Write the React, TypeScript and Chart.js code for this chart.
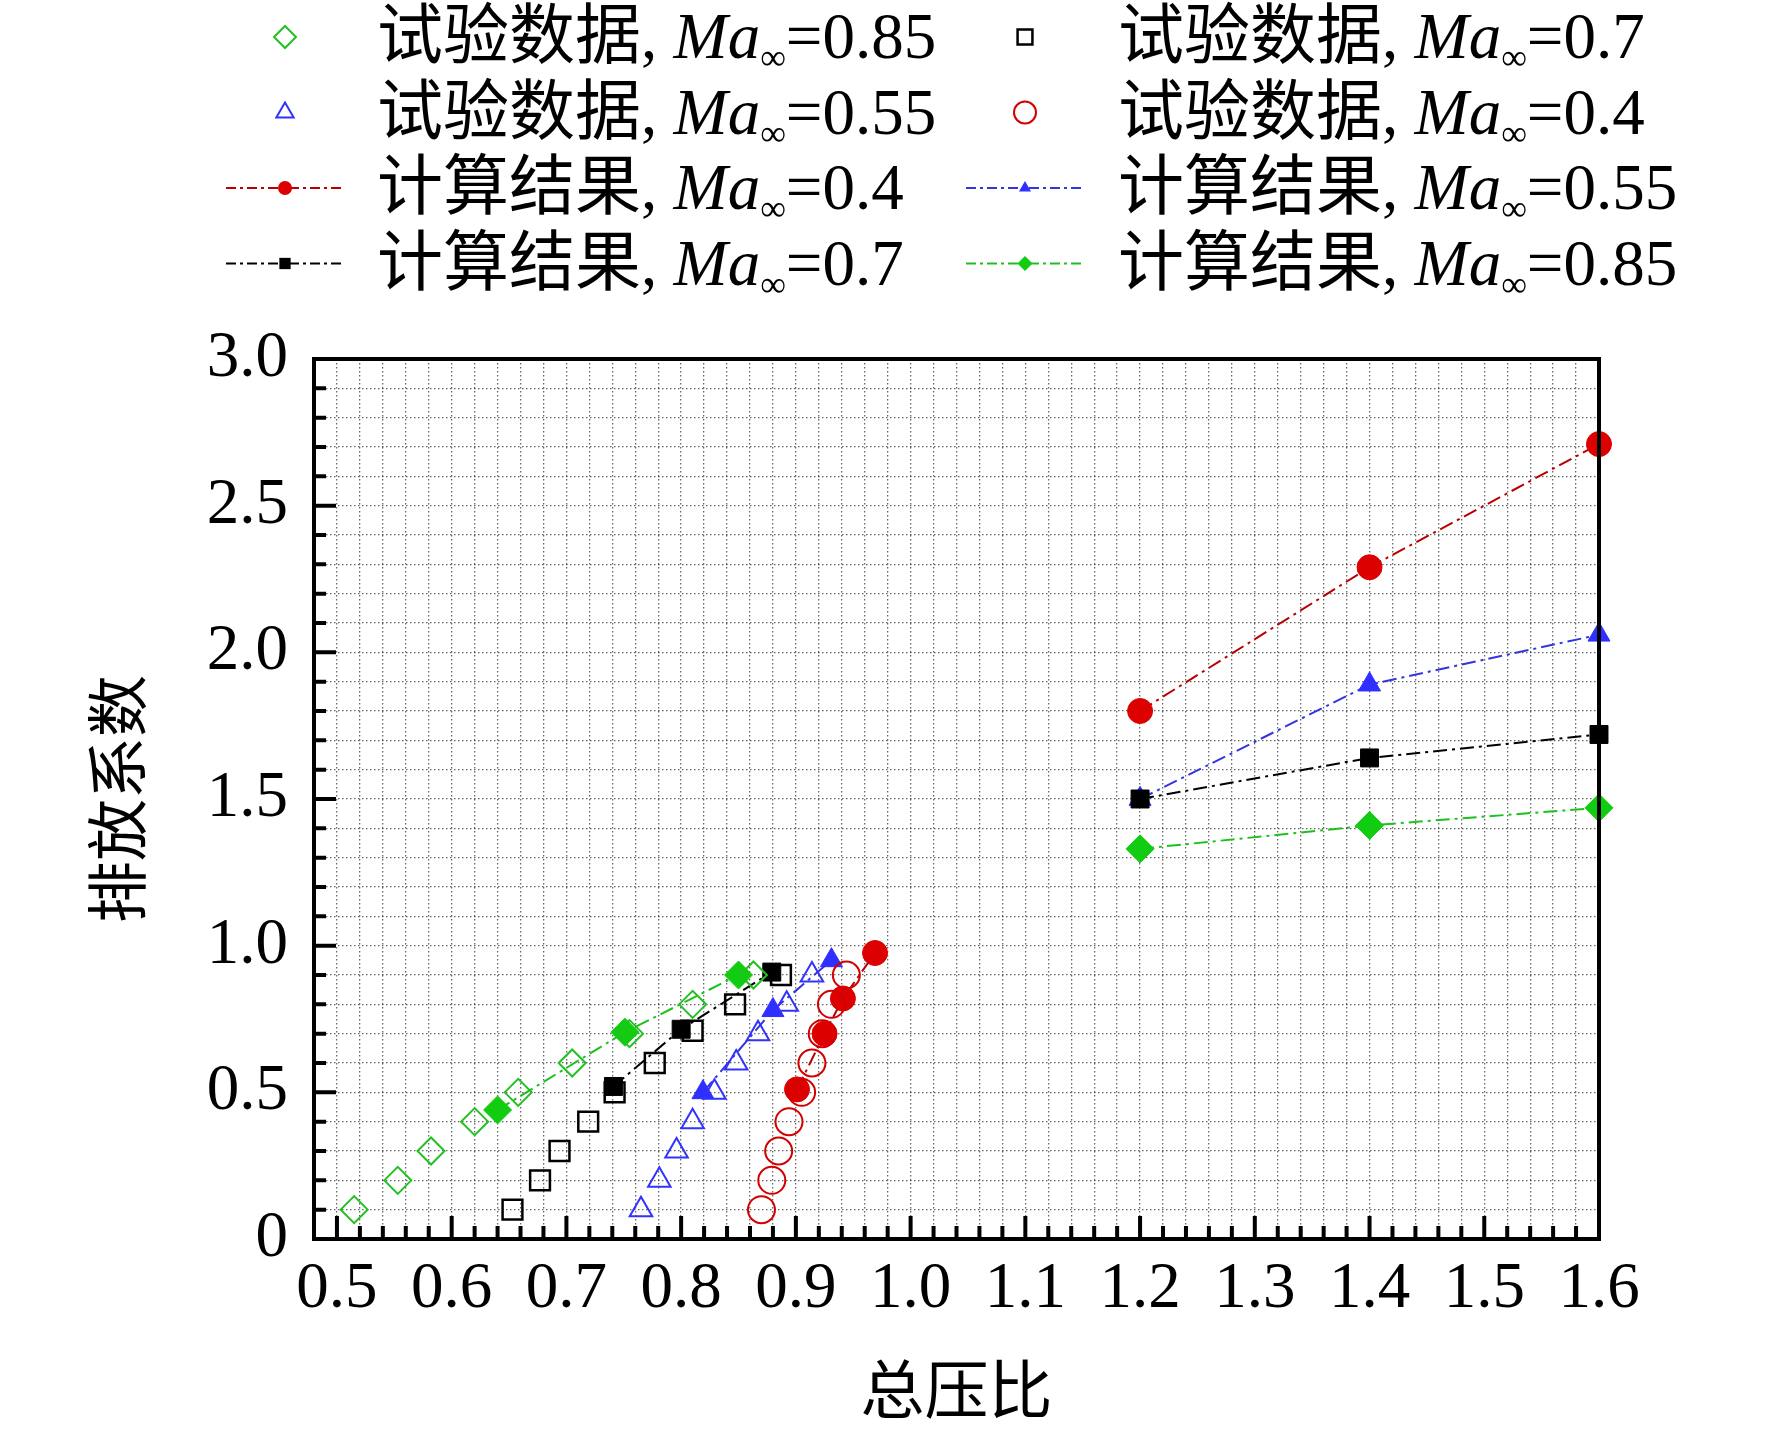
import React, { useEffect, useRef } from 'react';
import { Chart, registerables } from 'chart.js';

Chart.register(...registerables);

const SERIF = "'Liberation Serif', 'Times New Roman', serif";
const CJK = "'Noto Sans CJK SC', 'Noto Sans', sans-serif";

// ---------- axes ----------
const X_MIN = 0.48;
const X_MAX = 1.6;
const X_STEP = 0.02;
const Y_MIN = 0;
const Y_MAX = 3;
const Y_STEP = 0.1;
const X_TITLE = '总压比';
const Y_TITLE = '排放系数';

// ---------- legend texts ----------
const GROUP_TEST = '试验数据';
const GROUP_CALC = '计算结果';
const seriesGroup = [GROUP_TEST, GROUP_TEST, GROUP_TEST, GROUP_TEST, GROUP_CALC, GROUP_CALC, GROUP_CALC, GROUP_CALC];
const seriesMach = ['0.85', '0.7', '0.55', '0.4', '0.4', '0.55', '0.7', '0.85'];

// ---------- data ----------
// test data (open markers)
const test085X = [0.515, 0.553, 0.582, 0.620, 0.658, 0.705, 0.755, 0.810, 0.863];
const test085Y = [0.1, 0.2, 0.3, 0.4, 0.5, 0.6, 0.7, 0.8, 0.9];
const test07X = [0.653, 0.677, 0.694, 0.719, 0.742, 0.777, 0.810, 0.847, 0.887];
const test07Y = [0.1, 0.2, 0.3, 0.4, 0.5, 0.6, 0.71, 0.8, 0.9];
const test055X = [0.765, 0.781, 0.796, 0.810, 0.829, 0.848, 0.867, 0.892, 0.914];
const test055Y = [0.1, 0.2, 0.3, 0.4, 0.5, 0.6, 0.7, 0.8, 0.9];
const test04X = [0.870, 0.879, 0.885, 0.894, 0.905, 0.914, 0.923, 0.931, 0.944];
const test04Y = [0.1, 0.2, 0.3, 0.4, 0.5, 0.6, 0.7, 0.8, 0.9];
// computed results (filled markers, dash-dot lines)
const calc04X = [0.901, 0.925, 0.941, 0.969, 1.2, 1.4, 1.6];
const calc04Y = [0.51, 0.70, 0.82, 0.975, 1.80, 2.29, 2.71];
const calc055X = [0.819, 0.880, 0.931, 1.2, 1.4, 1.6];
const calc055Y = [0.50, 0.78, 0.95, 1.50, 1.89, 2.06];
const calc07X = [0.741, 0.800, 0.879, 1.2, 1.4, 1.6];
const calc07Y = [0.52, 0.715, 0.91, 1.50, 1.64, 1.72];
const calc085X = [0.640, 0.751, 0.850, 1.2, 1.4, 1.6];
const calc085Y = [0.44, 0.705, 0.90, 1.33, 1.41, 1.47];

const seriesX = [test085X, test07X, test055X, test04X, calc04X, calc055X, calc07X, calc085X];
const seriesY = [test085Y, test07Y, test055Y, test04Y, calc04Y, calc055Y, calc07Y, calc085Y];

// ---------- styles ----------
type Sty = { ps: string; color: string; line?: string; fill: boolean; r: number; lr: number; bw: number; order: number };
const styles: Sty[] = [
  { ps: 'rectRot', color: '#22c022', fill: false, r: 13.5, lr: 11, bw: 2, order: 0 },
  { ps: 'rect', color: '#000000', fill: false, r: 14, lr: 10.5, bw: 2.5, order: 0 },
  { ps: 'triangle', color: '#3232ff', fill: false, r: 13, lr: 10, bw: 2, order: 0 },
  { ps: 'circle', color: '#d20000', fill: false, r: 13.5, lr: 11, bw: 2, order: 0 },
  { ps: 'circle', color: '#dd0000', line: '#b80000', fill: true, r: 12.5, lr: 7, bw: 1, order: 2 },
  { ps: 'triangle', color: '#2f2fff', line: '#3535e0', fill: true, r: 12.7, lr: 7, bw: 1, order: 3 },
  { ps: 'rect', color: '#000000', line: '#000000', fill: true, r: 12.7, lr: 8, bw: 1, order: 1 },
  { ps: 'rectRot', color: '#11cc11', line: '#1ec01e', fill: true, r: 14, lr: 7.5, bw: 1, order: 1 },
];

const PLOT_DASH = [14, 5, 3, 5];
const LEGEND_DASH = [10, 4, 3, 4];

function toPoints(xs: number[], ys: number[]) {
  const pts: any[] = [];
  xs.forEach((x, i) => {
    if (i > 0 && xs[i - 1] < 1 && x > 1) pts.push({ x: (xs[i - 1] + x) / 2, y: null });
    pts.push({ x, y: ys[i] });
  });
  return pts;
}

function drawMarker(ctx: CanvasRenderingContext2D, ps: string, x: number, y: number, r: number, fill: boolean, color: string, bw: number) {
  ctx.beginPath();
  if (ps === 'circle') {
    ctx.arc(x, y, r, 0, Math.PI * 2);
  } else if (ps === 'rect') {
    const s = r * Math.SQRT1_2;
    ctx.rect(x - s, y - s, 2 * s, 2 * s);
  } else if (ps === 'rectRot') {
    ctx.moveTo(x - r, y);
    ctx.lineTo(x, y - r);
    ctx.lineTo(x + r, y);
    ctx.lineTo(x, y + r);
    ctx.closePath();
  } else if (ps === 'triangle') {
    const c = Math.cos(Math.PI / 6) * r;
    ctx.moveTo(x, y - r);
    ctx.lineTo(x + c, y + r * 0.5);
    ctx.lineTo(x - c, y + r * 0.5);
    ctx.closePath();
  }
  if (fill) {
    ctx.fillStyle = color;
    ctx.fill();
  } else {
    ctx.setLineDash([]);
    ctx.lineWidth = bw;
    ctx.strokeStyle = color;
    ctx.stroke();
  }
}

const framePlugin = {
  id: 'frameTicks',
  afterDatasetsDraw(chart: any) {
    const { ctx, chartArea: a, scales } = chart;
    const xs = scales.x;
    const ys = scales.y;
    ctx.save();
    ctx.setLineDash([]);
    ctx.strokeStyle = '#000';
    ctx.lineWidth = 4;
    ctx.beginPath();
    const nx = Math.round((X_MAX - X_MIN) / X_STEP);
    for (let i = 1; i < nx; i++) {
      const v = X_MIN + i * X_STEP;
      const r = Math.round(v * 100);
      const len = r % 10 === 0 ? 23 : 13;
      const px = xs.getPixelForValue(v);
      ctx.moveTo(px, a.bottom);
      ctx.lineTo(px, a.bottom - len);
    }
    const ny = Math.round((Y_MAX - Y_MIN) / Y_STEP);
    for (let i = 1; i < ny; i++) {
      const v = Y_MIN + i * Y_STEP;
      const r = Math.round(v * 10);
      const len = r % 5 === 0 ? 22 : 12;
      const py = ys.getPixelForValue(v);
      ctx.moveTo(a.left, py);
      ctx.lineTo(a.left + len, py);
    }
    ctx.stroke();
    ctx.lineWidth = 4;
    ctx.strokeRect(a.left, a.top, a.right - a.left, a.bottom - a.top);
    ctx.restore();
  },
};

const LEG_BASE0 = 58;
const LEG_ROW = 75.5;
const LEG_COLS = [
  { lineA: 226, lineB: 344, mark: 285, text: 377 },
  { lineA: 966, lineB: 1084, mark: 1025, text: 1118 },
];

const legendPlugin = {
  id: 'customLegend',
  afterDraw(chart: any) {
    const ctx: CanvasRenderingContext2D = chart.ctx;
    ctx.save();
    seriesGroup.forEach((group, i) => {
      const col = LEG_COLS[i % 2];
      const row = Math.floor(i / 2);
      const base = LEG_BASE0 + row * LEG_ROW;
      const my = base - 21;
      const s = styles[i];
      if (s.line) {
        ctx.beginPath();
        ctx.setLineDash(LEGEND_DASH);
        ctx.lineWidth = 2;
        ctx.strokeStyle = s.line;
        ctx.moveTo(col.lineA, my);
        ctx.lineTo(col.lineB, my);
        ctx.stroke();
        ctx.setLineDash([]);
      }
      drawMarker(ctx, s.ps, col.mark, my, s.lr, s.fill, s.color, s.bw);
      // text
      let x = col.text;
      ctx.fillStyle = '#000';
      ctx.textAlign = 'left';
      ctx.textBaseline = 'alphabetic';
      ctx.font = `66px ${CJK}`;
      ctx.fillText(group, x, base);
      x += ctx.measureText(group).width;
      ctx.font = `65px ${SERIF}`;
      ctx.fillText(', ', x, base);
      x += ctx.measureText(', ').width;
      ctx.font = `italic 65px ${SERIF}`;
      ctx.fillText('Ma', x, base);
      x += ctx.measureText('Ma').width;
      ctx.font = `36px ${SERIF}`;
      ctx.fillText('∞', x, base + 11);
      x += ctx.measureText('∞').width;
      ctx.font = `65px ${SERIF}`;
      ctx.fillText('=' + seriesMach[i], x, base);
    });
    ctx.restore();
  },
};

export default function App() {
  const ref = useRef<HTMLCanvasElement | null>(null);
  useEffect(() => {
    if (!ref.current) return;
    const datasets = seriesX.map((xs, i) => {
      const s = styles[i];
      const isCalc = !!s.line;
      return {
        label: `${seriesGroup[i]}, Ma∞=${seriesMach[i]}`,
        data: toPoints(xs, seriesY[i]),
        order: s.order,
        showLine: isCalc,
        spanGaps: false,
        borderColor: s.line || s.color,
        borderWidth: 2,
        borderDash: PLOT_DASH,
        backgroundColor: s.color,
        pointStyle: s.ps,
        pointRadius: s.r,
        pointHoverRadius: s.r,
        pointBorderWidth: s.fill ? 1 : s.bw,
        pointBorderColor: s.color,
        pointBackgroundColor: s.fill ? s.color : 'rgba(0,0,0,0)',
        tension: 0,
        clip: false,
      };
    });
    const chart = new Chart(ref.current, {
      type: 'line',
      data: { datasets } as any,
      options: {
        animation: false,
        responsive: false,
        devicePixelRatio: 1,
        events: [],
        layout: { padding: { left: 0, right: 173, top: 359, bottom: 0 } },
        plugins: { legend: { display: false }, tooltip: { enabled: false } },
        scales: {
          x: {
            type: 'linear',
            min: X_MIN,
            max: X_MAX,
            afterFit: (s: any) => { s.height = 197; },
            ticks: {
              stepSize: X_STEP,
              autoSkip: false,
              maxRotation: 0,
              minRotation: 0,
              padding: 18,
              color: '#000',
              font: { family: SERIF, size: 65, lineHeight: 1 },
              callback: (v: any) => {
                const r = Math.round(Number(v) * 100);
                return r % 10 === 0 && r >= 50 ? (r / 100).toFixed(1) : '';
              },
            },
            grid: { color: 'rgba(0,0,0,0.6)', lineWidth: 1.3, drawTicks: false },
            border: { display: false, dash: [1.5, 2.5] },
            title: {
              display: true,
              text: X_TITLE,
              color: '#000',
              font: { family: CJK, size: 64, lineHeight: 1 },
              padding: { top: 0, bottom: 15 },
            },
          },
          y: {
            type: 'linear',
            min: Y_MIN,
            max: Y_MAX,
            afterFit: (s: any) => { s.width = 314; },
            ticks: {
              stepSize: Y_STEP,
              autoSkip: false,
              padding: 26,
              color: '#000',
              font: { family: SERIF, size: 65, lineHeight: 1 },
              callback: (v: any) => {
                const r = Math.round(Number(v) * 10);
                if (r % 5 !== 0) return '';
                return r === 0 ? '0' : (r / 10).toFixed(1);
              },
            },
            grid: { color: 'rgba(0,0,0,0.6)', lineWidth: 1.3, drawTicks: false },
            border: { display: false, dash: [1.5, 2.5] },
            title: {
              display: true,
              text: Y_TITLE,
              color: '#000',
              font: { family: CJK, size: 62, lineHeight: 1 },
              padding: { top: 86, bottom: 0 },
            },
          },
        },
      } as any,
      plugins: [framePlugin, legendPlugin],
    });
    return () => chart.destroy();
  }, []);
  return (
    <div style={{ position: 'absolute', left: 0, top: 0, width: 1772, height: 1436, background: '#fff' }}>
      <canvas ref={ref} width={1772} height={1436} style={{ display: 'block', width: 1772, height: 1436 }} />
    </div>
  );
}
